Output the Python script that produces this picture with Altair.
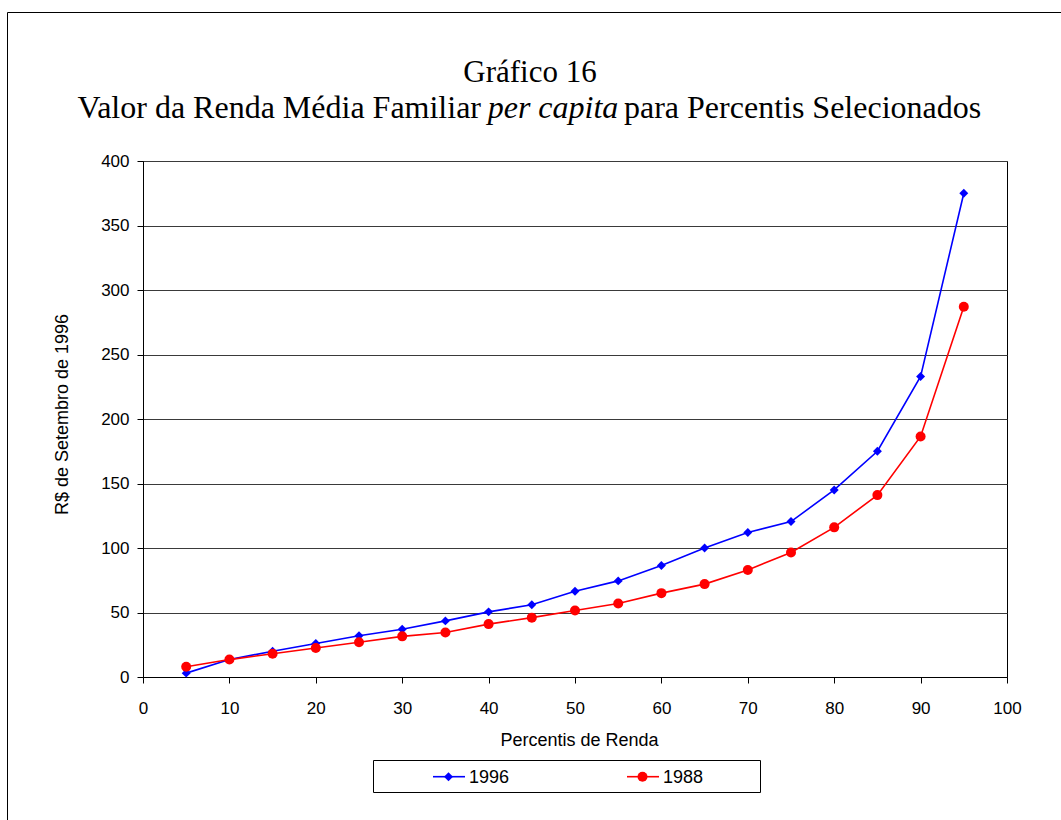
import altair as alt
import pandas as pd

# Percentis da distribuição de renda
percentis = [5, 10, 15, 20, 25, 30, 35, 40, 45, 50, 55, 60, 65, 70, 75, 80, 85, 90, 95]

# Renda média familiar per capita (R$ de setembro de 1996)
renda_1996 = [3, 13.5, 20, 26, 32, 37, 43.5, 50.5, 56, 66.5, 74.5, 86.5, 100, 112, 120.5, 145, 175, 233, 375]
renda_1988 = [8, 13.5, 18, 22.5, 27, 31.5, 34.5, 41, 46, 51.5, 57, 65, 72, 83, 96.5, 116, 141, 186.5, 287]

series = ["1996", "1988"]
cores = ["#0000FF", "#FF0000"]
formas = ["diamond", "circle"]
tamanhos = [80, 100]

x_ticks = list(range(0, 101, 10))
y_ticks = list(range(0, 401, 50))

titulo_1 = "Gráfico 16"
titulo_2a = "Valor da Renda Média Familiar"
titulo_2b = "per capita"
titulo_2c = "para Percentis Selecionados"
titulo_x = "Percentis de Renda"
titulo_y = "R$ de Setembro de 1996"

rows = []
for nome, valores in zip(series, [renda_1996, renda_1988]):
    for p, v in zip(percentis, valores):
        rows.append({"serie": nome, "percentil": p, "valor": v})
df = pd.DataFrame(rows)

W, H = 864, 516
PAD = {"left": 143, "top": 161, "right": 54, "bottom": 143}
SANS = "Liberation Sans"
SERIF = "Liberation Serif"

x_enc = alt.X(
    "percentil:Q",
    scale=alt.Scale(domain=[0, 100], nice=False),
    axis=alt.Axis(
        values=x_ticks, title=titulo_x, grid=False, labelFlush=False,
        tickSize=6, labelPadding=30, labelBaseline="alphabetic",
        titleX=436, titleY=68, titleBaseline="alphabetic", titleAlign="center",
    ),
)
y_enc = alt.Y(
    "valor:Q",
    scale=alt.Scale(domain=[0, 400], nice=False),
    axis=alt.Axis(
        values=y_ticks, title=titulo_y, grid=True, labelFlush=False,
        tickSize=6, labelPadding=8,
        titleX=-81, titleY=253, titleBaseline="middle", titleAlign="center",
    ),
)
cor = alt.Color("serie:N", scale=alt.Scale(domain=series, range=cores), legend=None)

linhas = alt.Chart(df).mark_line(strokeWidth=1.6).encode(x=x_enc, y=y_enc, color=cor)
pontos = alt.Chart(df).mark_point(filled=True, opacity=1).encode(
    x="percentil:Q",
    y="valor:Q",
    color=cor,
    shape=alt.Shape("serie:N", scale=alt.Scale(domain=series, range=formas), legend=None),
    size=alt.Size("serie:N", scale=alt.Scale(domain=series, range=tamanhos), legend=None),
)

one = pd.DataFrame({"k": [0]})

def texto(txt, x, y, size, font, align="center", style="normal"):
    return alt.Chart(one).mark_text(
        text=txt, font=font, fontSize=size, fontStyle=style, align=align,
        baseline="alphabetic", color="black",
    ).encode(x=alt.value(x), y=alt.value(y))

# Títulos (origem = canto superior esquerdo da área de plotagem)
titulos = [
    texto(titulo_1, 387, -79, 31, SERIF),
    texto(titulo_2a, 338, -43.5, 32, SERIF, align="right"),
    texto(titulo_2b, 410, -43.5, 32, SERIF, style="italic"),
    texto(titulo_2c, 481, -43.5, 32, SERIF, align="left"),
]

# Moldura externa do gráfico
moldura = [
    alt.Chart(one).mark_rule(color="black", strokeWidth=1).encode(
        x=alt.value(-135.5), x2=alt.value(W + PAD["right"] + 2), y=alt.value(-148.5)),
    alt.Chart(one).mark_rule(color="black", strokeWidth=1).encode(
        x=alt.value(-135.5), y=alt.value(-148.5), y2=alt.value(H + PAD["bottom"] + 2)),
]

# Legenda
leg_x0, leg_y0, leg_x1, leg_y1 = 230.5, 599.5, 617.5, 631.5
legenda = [
    alt.Chart(one).mark_rect(fill="white", stroke="black", strokeWidth=1).encode(
        x=alt.value(leg_x0), x2=alt.value(leg_x1), y=alt.value(leg_y0), y2=alt.value(leg_y1)),
]
slot = 194
for i, (nome, c, f, s) in enumerate(zip(series, cores, formas, tamanhos)):
    x0 = 290 + i * slot
    yc = 615.7
    legenda += [
        alt.Chart(one).mark_rule(color=c, strokeWidth=1.6).encode(
            x=alt.value(x0), x2=alt.value(x0 + 32), y=alt.value(yc)),
        alt.Chart(one).mark_point(filled=True, opacity=1, color=c, shape=f, size=s).encode(
            x=alt.value(x0 + 15.5), y=alt.value(yc)),
        texto(nome, x0 + 36, 621.5, 18, SANS, align="left"),
    ]

chart = alt.layer(linhas, pontos, *titulos, *moldura, *legenda).properties(
    width=W, height=H, padding=PAD,
    autosize=alt.AutoSizeParams(type="none"),
    background="white",
).configure_view(
    stroke="black", strokeWidth=1,
).configure_axis(
    labelFont=SANS, labelFontSize=17, labelColor="black",
    titleFont=SANS, titleFontSize=18, titleFontWeight="normal", titleColor="black",
    domainColor="black", tickColor="black", gridColor="#3a3a3a", gridWidth=1,
    gridOpacity=1, domainWidth=1, tickWidth=1,
)

chart.save("out.html", embed_options={"renderer": "svg", "actions": False})
